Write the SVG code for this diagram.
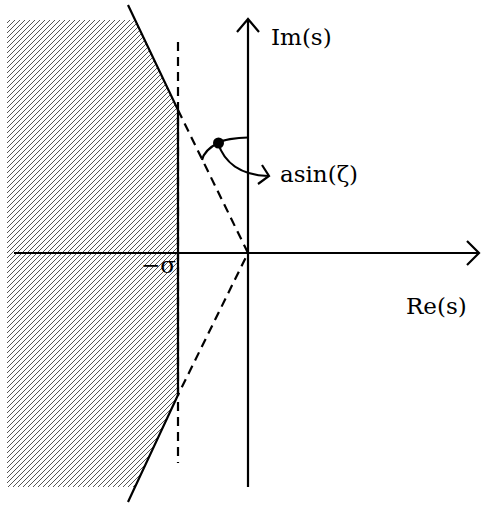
<svg xmlns="http://www.w3.org/2000/svg" width="481" height="506" viewBox="0 0 481 506">
<style>
.ln{stroke:#000;stroke-width:2.2;fill:none;stroke-linecap:butt}
.ds{stroke:#000;stroke-width:2.2;fill:none;stroke-dasharray:9,6}
.lbl{font-family:"DejaVu Serif","Liberation Serif",serif;font-size:23px;fill:#000}
</style>
<defs>
<pattern id="hatch" patternUnits="userSpaceOnUse" width="5" height="5">
<path d="M-1,1 L1,-1 M0,5 L5,0 M4,6 L6,4" stroke="#555" stroke-width="1"/>
</pattern>
</defs>
<g id="region">
<polygon points="7,20 135,20 178,110 178,395 135,487 7,487" fill="url(#hatch)"/>
</g>
<g id="connectors">
<path class="ln" d="M128,5 L178,110 L178,395 L128,502"/>
<path class="ds" d="M178,42 L178,463"/>
<path class="ds" d="M178,110 L248,253 L178,395"/>
<path class="ln" d="M14,253 L478,253 M467,241 L479,253 L467,265"/>
<path class="ln" d="M248,487 L248,19 M237,32 L248,19 L259,32"/>
<path class="ln" d="M248,137.5 C236,137.5 222,140 218,143 C210,147 204,152 202,160"/>
<path class="ln" d="M218,143 C224,162 240,175 268,176 M262,165 L269,176 L258,184"/>
</g>
<g id="point">
<circle cx="218.5" cy="143" r="5.5" fill="#000"/>
</g>
<g id="labels">
<text class="lbl" x="271" y="45">Im(s)</text>
<text class="lbl" x="406" y="314">Re(s)</text>
<text class="lbl" x="280" y="182">asin(ζ)</text>
<text class="lbl" x="141" y="273">−σ</text>
</g>
</svg>
